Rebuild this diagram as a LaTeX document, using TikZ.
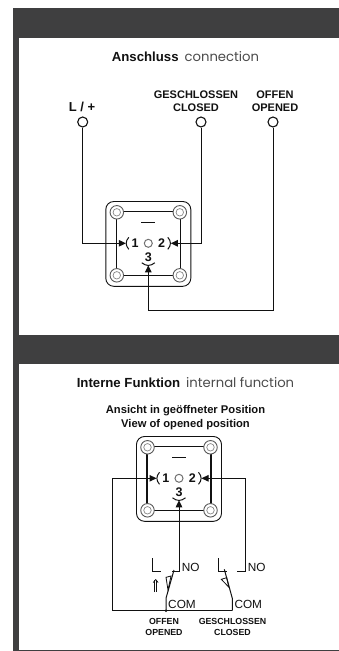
\documentclass[tikz,border=0pt]{standalone}
\usepackage{fontspec}
\setmainfont{Liberation Sans}
\newfontfamily\lightfont{Poppins}
\usetikzlibrary{arrows.meta}
\definecolor{band}{HTML}{3F3F40}
\definecolor{ink}{HTML}{111111}
\tikzset{
  x=1pt,y=-1pt,
  wire/.style={draw=ink,line width=1pt},
  wirearrow/.style={wire,-{Triangle[length=7pt,width=6.5pt]}},
  housing/.style={draw=ink,line width=0.9pt,rounded corners=8pt},
  plate/.style={draw=ink,line width=1.1pt},
  screwout/.style={circle,draw=ink!70,line width=0.9pt,fill=white,minimum size=13.5pt,inner sep=0pt},
  screwin/.style={circle,draw=ink!50,line width=0.7pt,fill=white,minimum size=7.5pt,inner sep=0pt},
  pin/.style={circle,draw=ink!60,line width=1pt,fill=white,minimum size=8pt,inner sep=0pt},
  terminal/.style={circle,draw=ink,line width=1.1pt,minimum size=10pt,inner sep=0pt},
  lab/.style={font=\fontsize{11}{13.2}\selectfont\bfseries,text=ink,inner sep=0pt},
  num/.style={font=\fontsize{12.5}{13}\selectfont\bfseries,text=ink,inner sep=0pt},
  sw/.style={font=\fontsize{11.8}{13}\selectfont,text=ink,inner sep=0pt},
  swlab/.style={font=\fontsize{8.8}{10.6}\selectfont\bfseries,text=ink,inner sep=0pt,align=center},
  view/.style={font=\fontsize{11.2}{13}\selectfont\bfseries,text=ink,inner sep=0pt},
  title/.style={font=\fontsize{13.2}{15}\selectfont,text=ink,inner sep=0pt},
  pics/device/.style={code={
    \draw[housing] (-42.5,-41.8) rectangle (42.5,43);
    \draw[plate] (-32,-31.5) rectangle (32,31.8);
    \foreach \sx/\sy/\sn in {-31.5/-31/a,31.5/-31/b,-31.5/32/c,31.5/32/d}{
      \node[screwout] (-s\sn) at (\sx,\sy) {};
      \node[screwin] (-i\sn) at (\sx,\sy) {};
    }
    \draw[ink,line width=1pt] (-7,-20.7) -- (7,-20.7);
    \node[pin] (-pin) at (0,0) {};
    \node[num] (-n1) at (-13.2,0) {1};
    \node[num] (-n2) at (13.4,0) {2};
    \node[num] (-n3) at (0,14) {3};
    \draw[ink,line width=1pt] (-19.5,-6) .. controls (-23,-2) and (-23,2) .. (-19.5,6);
    \draw[ink,line width=1pt] (19.5,-6) .. controls (23,-2) and (23,2) .. (19.5,6);
    \draw[ink,line width=1pt] (-6.5,19.5) .. controls (-2,23) and (2,23) .. (6.5,19.5);
    \coordinate (-t1) at (-22.5,0);
    \coordinate (-t2) at (22.5,0);
    \coordinate (-t3) at (0,22);
  }}
}
\begin{document}
\begin{tikzpicture}
\useasboundingbox (0,0) rectangle (339,651);
\fill[white] (0,0) rectangle (339,651);
% frame
\fill[band] (13,8) rectangle (339,38);
\fill[band] (13,8) rectangle (19,651);
\fill[band] (13,335) rectangle (339,364);
\draw[band,line width=1pt] (13,650) -- (339,650);
% upper section
\node[title] (t1) at (185.5,57) {\textbf{Anschluss}\hspace{6pt}{\lightfont\color{ink!75}connection}};
\node[lab,font=\fontsize{13}{14}\selectfont\bfseries] (lL) at (82,107) {L / +};
\node[lab,align=center] (lC) at (196,101.5) {GESCHLOSSEN\\CLOSED};
\node[lab,align=center] (lO) at (275,101.5) {OFFEN\\OPENED};
\node[terminal] (L) at (82.7,122) {};
\node[terminal] (C) at (201,122) {};
\node[terminal] (O) at (273,122) {};
\pic (u) at (148.3,243.3) {device};
\coordinate (bend1) at (L |- u-t1);
\coordinate (bend2) at (C |- u-t2);
\coordinate (bend3) at (O |- 0,310);
\coordinate (bend4) at (u-t3 |- 0,310);
\draw[wirearrow] (L.south) -- (bend1) -- (u-t1);
\draw[wirearrow] (C.south) -- (bend2) -- (u-t2);
\draw[wirearrow] (O.south) -- (bend3) -- (bend4) -- (u-t3);
% lower section
\node[title] (t2) at (185.5,383) {\textbf{Interne Funktion}\hspace{6pt}{\lightfont\color{ink!75}internal function}};
\node[view] (v1) at (185.5,411) {Ansicht in geöffneter Position};
\node[view] (v2) at (185.5,425) {View of opened position};
\pic (d) at (179,478.3) {device};
% left contact wire
\coordinate (j) at (166,610.7);
\coordinate (r1) at (232.3,610.7);
\coordinate (c1) at (112.9,610.7);
\coordinate (c2) at (c1 |- d-t1);
\draw[wirearrow] (r1) -- (c1) -- (c2) -- (d-t1);
\fill[ink] (j) circle (1.3pt);
% NO contact of the closed switch
\coordinate (no2a) at (237.3,571.3);
\coordinate (no2b) at (245.7,571.3);
\coordinate (no2c) at (no2b |- d-t2);
\draw[wirearrow] (no2a) -- (no2b) -- (no2c) -- (d-t2);
% NO contact of the open switch
\coordinate (no1a) at (172.3,571.3);
\coordinate (no1b) at (d-t3 |- no1a);
\draw[wirearrow] (no1a) -- (no1b) -- (d-t3);
% switch 1
\draw[wire] (152.3,558.3) -- (152.3,571.3) -- (160.7,571.3);
\draw[wire] (j) -- (166,598.3) -- (174,570);
\draw[wire,line width=0.8pt] (166,577.3) -- (171,576) -- (168,590) -- cycle;
\draw[ink,line width=0.7pt,double,double distance=1.2pt,-{Straight Barb[length=3pt,width=5pt]}] (155.7,592) -- (155.7,579);
% switch 2
\node[sw] (no1) at (190.7,567.3) {NO};
\node[sw] (com1) at (182,604.3) {COM};
\draw[wire] (218.3,558.3) -- (218.3,571.3) -- (226.7,571.3);
\draw[wire] (r1) -- (232.3,598.3) -- (224.3,569.3);
\draw[wire,line width=0.8pt] (221.3,579.3) -- (226.7,577.7) -- (229,587.3) -- cycle;
\node[sw] (no2) at (256.7,567.3) {NO};
\node[sw] (com2) at (248.3,604.3) {COM};
% switch labels
\node[swlab] (s1) at (164,627) {OFFEN\\OPENED};
\node[swlab] (s2) at (232.5,627) {GESCHLOSSEN\\CLOSED};
\end{tikzpicture}
\end{document}
